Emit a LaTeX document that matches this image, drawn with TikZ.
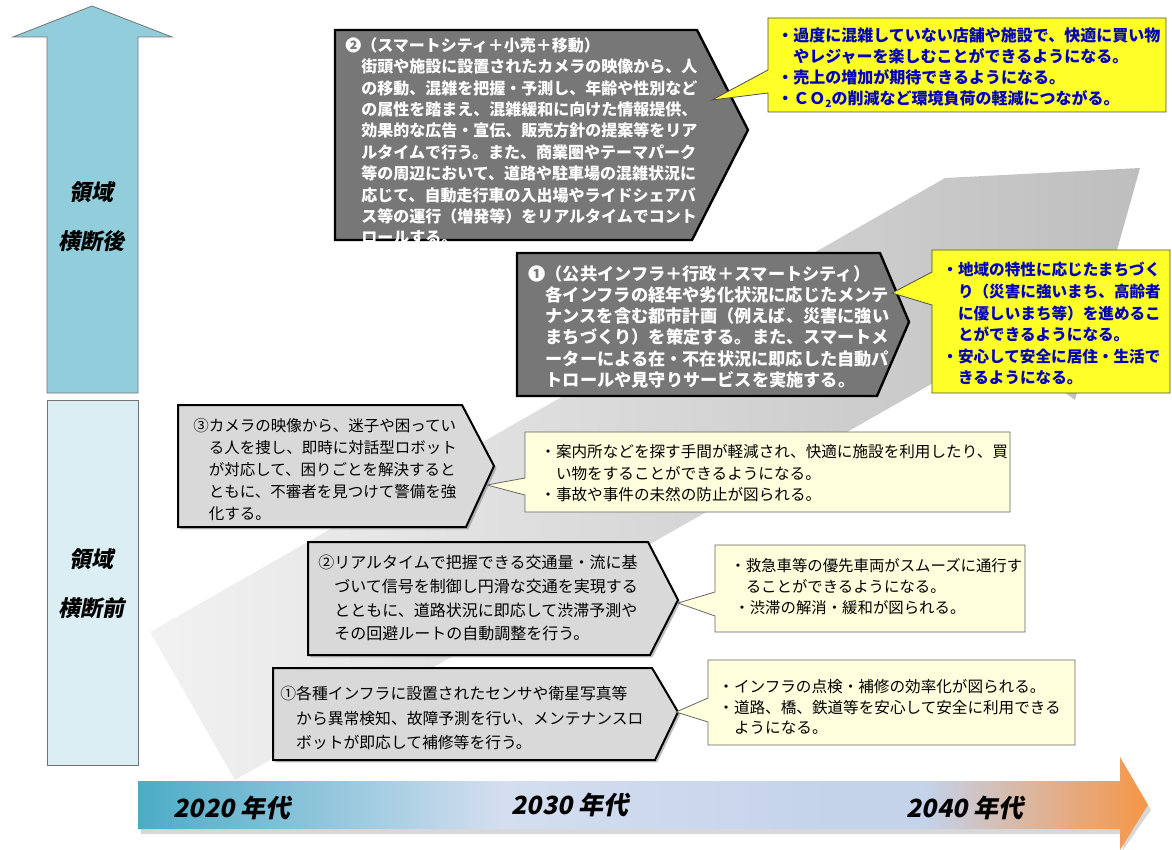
\documentclass[tikz,border=0pt]{standalone}
\usepackage{fontspec}
\setmainfont{Noto Sans CJK JP}
\newfontfamily\slantjp[FakeSlant=0.2]{Noto Sans CJK JP}
\usetikzlibrary{shadows}
\definecolor{bandLight}{RGB}{242,242,242}
\definecolor{bandDark}{RGB}{190,190,190}
\definecolor{upBlue}{RGB}{146,205,220}
\definecolor{lowBlue}{RGB}{219,238,244}
\definecolor{boxDark}{RGB}{119,119,119}
\definecolor{boxLight}{RGB}{217,217,217}
\definecolor{noteYellow}{RGB}{255,255,40}
\definecolor{noteCream}{RGB}{255,255,221}
\definecolor{noteBlue}{RGB}{0,0,190}
\definecolor{tlTeal}{RGB}{75,172,198}
\definecolor{tlPale}{RGB}{212,222,240}
\definecolor{tlLav}{RGB}{196,210,234}
\definecolor{tlOrange}{RGB}{247,150,70}
\pgfdeclarehorizontalshading{timeband}{100bp}{color(0bp)=(tlTeal); color(25bp)=(tlTeal); color(43bp)=(tlPale); color(60bp)=(tlLav); color(64bp)=(tlLav); color(75bp)=(tlOrange); color(100bp)=(tlOrange)}

\begin{document}
\begin{tikzpicture}[x=0.5pt, y=-0.5pt,
  darkbox/.style={draw=black, line width=1.2pt, fill=boxDark},
  lightbox/.style={draw=black, line width=1pt, fill=boxLight, drop shadow={shadow xshift=1.2pt, shadow yshift=-1.2pt, opacity=0.5}},
  hotnote/.style={draw=black!70, line width=0.4pt, fill=noteYellow},
  softnote/.style={draw=black!60, line width=0.4pt, fill=noteCream},
  boxtext/.style={anchor=north west, inner sep=0pt, align=left},
  sidelabel/.style={align=center, inner sep=0pt, font=\slantjp\bfseries\fontsize{11}{24.5}\selectfont},
  yearlabel/.style={inner sep=0pt, font=\slantjp\bfseries\fontsize{12.5}{14}\selectfont}]
  \useasboundingbox (0,0) rectangle (1172,850);

  % background band
  \shade[left color=bandLight, right color=bandDark] (150,632) -- (945,178) -- (1140,168) -- (1075,400) -- (1000,345) -- (235,780) -- cycle;

  % left column
  \draw[draw=black!55, fill=upBlue] (47,393) -- (47,37) -- (13,37) -- (92,6) -- (172,37) -- (138,37) -- (138,393) -- cycle;
  \draw[draw=black!55, fill=lowBlue] (47,400) rectangle (138,765);
  \node[sidelabel] (afterLbl) at (92,217) {領域\\横断後};
  \node[sidelabel] (beforeLbl) at (92,584) {領域\\横断前};

  % time line
  \fill[black!30, opacity=0.5] (141,786) -- (1123,786) -- (1123,762) -- (1151,810) -- (1123,850) -- (1123,834) -- (141,834) -- cycle;
  \shade[shading=timeband] (138,781) -- (1120,781) -- (1120,757) -- (1148,805) -- (1120,850) -- (1120,829) -- (138,829) -- cycle;
  \node[yearlabel] (y2020) at (232,808) {2020 年代};
  \node[yearlabel] (y2030) at (570,805) {2030 年代};
  \node[yearlabel] (y2040) at (965,808) {2040 年代};

  % before: boxes
  \draw[lightbox] (178,405) -- (462,405) -- (494,466) -- (466,527) -- (178,527) -- cycle;
  \draw[lightbox] (308,542) -- (648,542) -- (678,600) -- (650,655) -- (308,655) -- cycle;
  \draw[lightbox] (273,668) -- (652,668) -- (678,712) -- (655,760) -- (273,760) -- cycle;

  % after: boxes
  \draw[darkbox] (335,30) -- (697,30) -- (748,130) -- (692,240) -- (335,240) -- cycle;
  \draw[darkbox] (517,253) -- (880,253) -- (909,322) -- (877,396) -- (517,396) -- cycle;

  % notes
  \draw[hotnote] (768,18) -- (1166,18) -- (1166,112) -- (768,112) -- (768,93) -- (712,100) -- (768,70) -- cycle;
  \draw[hotnote] (932,250) -- (1170,250) -- (1170,393) -- (932,393) -- (932,305) -- (892,293) -- (932,272) -- cycle;
  \draw[softnote] (525,432) -- (1010,432) -- (1010,512) -- (525,512) -- (525,495) -- (487,485) -- (525,478) -- cycle;
  \draw[softnote] (715,545) -- (1025,545) -- (1025,632) -- (715,632) -- (715,616) -- (678,603) -- (715,592) -- cycle;
  \draw[softnote] (708,660) -- (1075,660) -- (1075,745) -- (708,745) -- (708,722) -- (676,712) -- (708,698) -- cycle;

  % texts
  \node[boxtext, text=white, font=\bfseries\fontsize{8}{10.7}\selectfont] (retailTxt) at (345,37)
    {❷（スマートシティ＋小売＋移動）\\
     　街頭や施設に設置されたカメラの映像から、人\\
     　の移動、混雑を把握・予測し、年齢や性別など\\
     　の属性を踏まえ、混雑緩和に向けた情報提供、\\
     　効果的な広告・宣伝、販売方針の提案等をリア\\
     　ルタイムで行う。また、商業圏やテーマパーク\\
     　等の周辺において、道路や駐車場の混雑状況に\\
     　応じて、自動走行車の入出場やライドシェアバ\\
     　ス等の運行（増発等）をリアルタイムでコント\\
     　ロールする。};
  \node[boxtext, text=white, font=\bfseries\fontsize{8.6}{10.6}\selectfont] (publicTxt) at (528,265)
    {❶（公共インフラ＋行政＋スマートシティ）\\
     　各インフラの経年や劣化状況に応じたメンテ\\
     　ナンスを含む都市計画（例えば、災害に強い\\
     　まちづくり）を策定する。また、スマートメ\\
     　ーターによる在・不在状況に即応した自動パ\\
     　トロールや見守りサービスを実施する。};
  \node[boxtext, text=noteBlue, font=\bfseries\fontsize{8}{10.5}\selectfont] (retailNote) at (777,27)
    {・過度に混雑していない店舗や施設で、快適に買い物\\
     　やレジャーを楽しむことができるようになる。\\
     ・売上の増加が期待できるようになる。\\
     ・ＣＯ\raisebox{-0.4ex}{\fontsize{5}{5}\selectfont 2}の削減など環境負荷の軽減につながる。};
  \node[boxtext, text=noteBlue, font=\bfseries\fontsize{7.8}{10.8}\selectfont] (publicNote) at (942,262)
    {・地域の特性に応じたまちづく\\
     　り（災害に強いまち、高齢者\\
     　に優しいまち等）を進めるこ\\
     　とができるようになる。\\
     ・安心して安全に居住・生活で\\
     　きるようになる。};
  \node[boxtext, font=\fontsize{7.75}{11}\selectfont] (guardTxt) at (193,418)
    {③カメラの映像から、迷子や困ってい\\
     　る人を捜し、即時に対話型ロボット\\
     　が対応して、困りごとを解決すると\\
     　ともに、不審者を見つけて警備を強\\
     　化する。};
  \node[boxtext, font=\fontsize{7.8}{10.8}\selectfont] (guardNote) at (540,444)
    {・案内所などを探す手間が軽減され、快適に施設を利用したり、買\\
     　い物をすることができるようになる。\\
     ・事故や事件の未然の防止が図られる。};
  \node[boxtext, font=\fontsize{8}{11.8}\selectfont] (trafficTxt) at (318,555)
    {②リアルタイムで把握できる交通量・流に基\\
     　づいて信号を制御し円滑な交通を実現する\\
     　とともに、道路状況に即応して渋滞予測や\\
     　その回避ルートの自動調整を行う。};
  \node[boxtext, font=\fontsize{7.7}{10.6}\selectfont] (trafficNote) at (730,558)
    {・救急車等の優先車両がスムーズに通行す\\
     　ることができるようになる。\\
     \hspace*{2pt}・渋滞の解消・緩和が図られる。};
  \node[boxtext, font=\fontsize{7.9}{12.2}\selectfont] (infraTxt) at (280,686)
    {①各種インフラに設置されたセンサや衛星写真等\\
     　から異常検知、故障予測を行い、メンテナンスロ\\
     　ボットが即応して補修等を行う。};
  \node[boxtext, font=\fontsize{7.8}{10.2}\selectfont] (infraNote) at (718,679)
    {・インフラの点検・補修の効率化が図られる。\\
     ・道路、橋、鉄道等を安心して安全に利用できる\\
     　ようになる。};
\end{tikzpicture}
\end{document}
